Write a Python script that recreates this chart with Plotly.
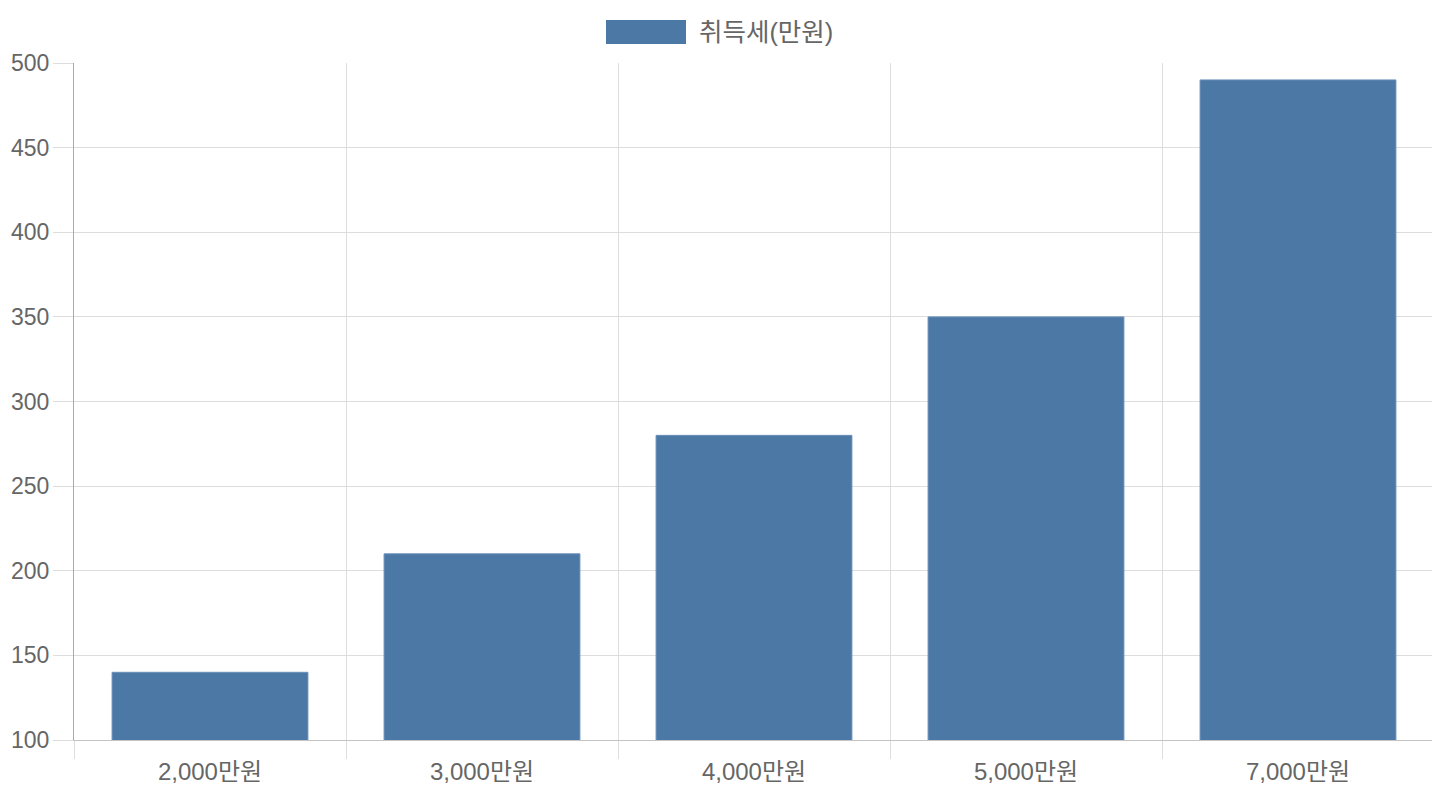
import plotly.graph_objects as go

categories = ["2,000만원", "3,000만원", "4,000만원", "5,000만원", "7,000만원"]
tax_values = [140, 210, 280, 350, 490]
series_name = "취득세(만원)"

bar_color = "#4c78a6"
text_color = "#666666"
font_family = "Liberation Sans, Arial, Noto Sans CJK KR, sans-serif"

fig = go.Figure()

fig.add_trace(go.Bar(
    x=categories,
    y=tax_values,
    name=series_name,
    marker=dict(color=bar_color, line=dict(color="#6a8fba", width=1)),
    showlegend=False,
))

# legend drawn by hand: wide swatch like the original
fig.add_shape(type="rect", xref="paper", yref="paper",
              x0=(606 - 74) / 1360, x1=(686 - 74) / 1360,
              y0=1 + (63 - 44) / 677, y1=1 + (63 - 20) / 677,
              fillcolor=bar_color, line=dict(width=0))
fig.add_annotation(text=series_name, xref="paper", yref="paper",
                   x=(697 - 74) / 1360, y=1 + (63 - 32) / 677,
                   xanchor="left", yanchor="middle", showarrow=False,
                   font=dict(size=25.5, color=text_color, family=font_family))

# page is drawn 8px in from the top-left corner
fig.update_layout(
    width=1440,
    height=800,
    margin=dict(l=66, r=14, t=55, b=68),
    plot_bgcolor="white",
    paper_bgcolor="white",
    bargap=0.28,
    font=dict(family=font_family, size=24, color=text_color),
)

fig.update_xaxes(
    type="category",
    tickson="boundaries",
    ticks="outside",
    ticklen=18,
    tickcolor="#dddddd",
    showgrid=True,
    gridcolor="#dddddd",
    gridwidth=1,
    showline=True,
    linecolor="#c4c4c4",
    linewidth=1,
    ticklabelstandoff=10,
    automargin=False,
    tickfont=dict(size=24, color=text_color),
)

fig.update_yaxes(
    range=[100, 500],
    dtick=50,
    ticks="outside",
    ticklen=20,
    tickcolor="#dddddd",
    showgrid=True,
    gridcolor="#dddddd",
    gridwidth=1,
    showline=True,
    linecolor="#aaaaaa",
    linewidth=1,
    zeroline=False,
    automargin=False,
    ticklabelstandoff=-1,
    tickfont=dict(size=23, color=text_color),
)

fig.write_html("out.html")
